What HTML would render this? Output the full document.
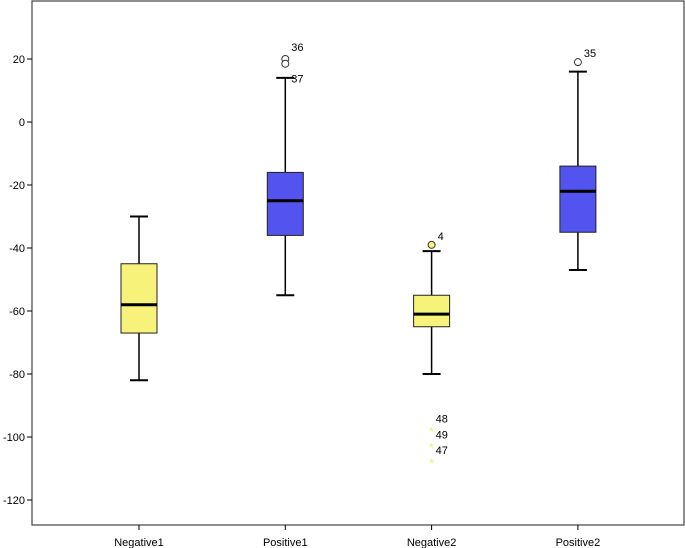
<!DOCTYPE html>
<html><head><meta charset="utf-8"><style>
html,body{margin:0;padding:0;background:#fff;}
svg{display:block;font-family:"Liberation Sans",Arial,sans-serif;}
</style></head><body>
<svg id="chart" width="685" height="548"></svg>
<script>
const categories=["Negative1","Positive1","Negative2","Positive2"];
const mins=[-82,-55,-80,-47];
const q1s=[-67,-36,-65,-35];
const medians=[-58,-25,-61,-22];
const q3s=[-45,-16,-55,-14];
const maxs=[-30,14,-41,16];
const colors=["#f7f37a","#5353f0","#f7f37a","#5353f0"];
const outlierCat=[1,1,2,3];
const outlierVal=[20,18.5,-39,19];
const outlierLab=["36","37","4","35"];
const extremeCat=[2,2,2];
const extremeVal=[-98,-103,-108];
const extremeLab=["48","49","47"];
const yTicks=[20,0,-20,-40,-60,-80,-100,-120];

const NS="http://www.w3.org/2000/svg";
const svg=document.getElementById('chart');
const L=32,R=684,T=1,B=525;
const y=v=>122-v*3.15;
const x=i=>139+i*146.3;
function el(tag,attrs,parent){const e=document.createElementNS(NS,tag);for(const k in attrs)e.setAttribute(k,attrs[k]);(parent||svg).appendChild(e);return e;}
let frame=el('rect',{x:L,y:T,width:R-L,height:B-T,fill:'none',stroke:'#444','stroke-width':1.2});


yTicks.forEach(t=>{
  const g=el('g',{});
  
  
  el('line',{x1:L-5,x2:L,y1:y(t),y2:y(t),stroke:'#000'},g);
  const tx=el('text',{x:L-7,y:y(t)+4,'text-anchor':'end','font-size':11},g);tx.textContent=t;
});
categories.forEach((c,i)=>{
  const g=el('g',{});
  
  
  const cx=x(i);
  el('line',{x1:cx,x2:cx,y1:y(maxs[i]),y2:y(q3s[i]),stroke:'#000','stroke-width':1.5},g);
  el('line',{x1:cx,x2:cx,y1:y(q1s[i]),y2:y(mins[i]),stroke:'#000','stroke-width':1.5},g);
  el('line',{x1:cx-9,x2:cx+9,y1:y(maxs[i]),y2:y(maxs[i]),stroke:'#000','stroke-width':2},g);
  el('line',{x1:cx-9,x2:cx+9,y1:y(mins[i]),y2:y(mins[i]),stroke:'#000','stroke-width':2},g);
  el('rect',{x:cx-18,y:y(q3s[i]),width:36,height:y(q1s[i])-y(q3s[i]),fill:colors[i],stroke:'#222','stroke-width':1},g);
  el('line',{x1:cx-18,x2:cx+18,y1:y(medians[i]),y2:y(medians[i]),stroke:'#000','stroke-width':3},g);
  const tk=el('line',{x1:cx,x2:cx,y1:B,y2:B+5,stroke:'#000'});
  
  
  const lb=el('text',{x:cx,y:546,'text-anchor':'middle','font-size':11});
  
  
  lb.textContent=c;
});
outlierVal.forEach((v,k)=>{
  const cx=x(outlierCat[k]);
  const c=el('circle',{cx:cx,cy:y(v),r:3.5,fill:colors[outlierCat[k]]==="#f7f37a"?"#f7f37a":"#fff",stroke:'#333'});
  
  
  const off=(k===1)?19:(k===0?-8:-5);
  const t=el('text',{x:cx+6,y:y(v)+off,'font-size':11});
  
  
  t.textContent=outlierLab[k];
});
extremeVal.forEach((v,k)=>{
  const cx=x(extremeCat[k]);
  const s=el('text',{x:cx,y:y(v)+6,'text-anchor':'middle','font-size':14,fill:'#f2ee80'});
  
  
  s.textContent='*';
  const t=el('text',{x:cx+4,y:y(v)-8,'font-size':11});
  
  
  t.textContent=extremeLab[k];
});
</script>
</body></html>
